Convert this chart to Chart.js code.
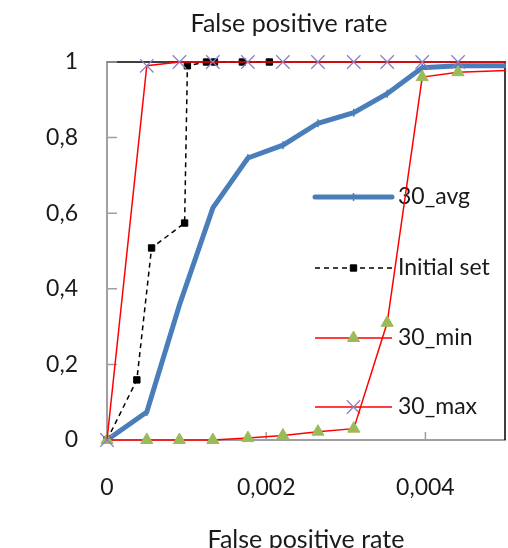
<!DOCTYPE html>
<html><head><meta charset="utf-8">
<script src="https://cdn.jsdelivr.net/npm/chart.js@4/dist/chart.umd.min.js"></script>
<style>html,body{margin:0;padding:0;background:#fff;}</style>
</head><body>
<canvas id="c" width="508" height="548"></canvas>
<script>
const chartTitle = 'False positive rate';
const xAxisTitle = 'False positive rate';
const seriesNames = ['30_avg', 'Initial set', '30_min', '30_max'];
const rocX = [0, 0.0005, 0.00091, 0.00133, 0.00177, 0.00221, 0.00265, 0.0031, 0.00352, 0.00396, 0.00441, 0.0053];
const avgY = [0, 0.074, 0.357, 0.614, 0.746, 0.78, 0.838, 0.866, 0.916, 0.985, 0.99, 0.99];
const minY = [0, 0, 0, 0, 0.005, 0.012, 0.022, 0.03, 0.31, 0.96, 0.973, 0.98];
const maxY = [0, 0.99, 1, 1, 1, 1, 1, 1, 1, 1, 1, 1];
const initX = [0, 0.000375, 0.00056, 0.000975, 0.00101, 0.00125, 0.00135, 0.0017, 0.00204];
const initY = [0, 0.159, 0.508, 0.574, 0.99, 1, 1, 1, 1];
const xTicks = [0, 0.002, 0.004];
const xTickLabels = ['0', '0,002', '0,004'];
const yTicks = [0, 0.2, 0.4, 0.6, 0.8, 1];
const yTickLabels = ['0', '0,2', '0,4', '0,6', '0,8', '1'];

const pts = (xs, ys) => xs.map((x, i) => ({x: x, y: ys[i]}));
const FONT = 'Lato, "Open Sans", sans-serif';
const TXT = '#1a1a1a';
const CLIP = {left: 12, top: 12, right: 1, bottom: 12};

const decor = {
  id: 'decor',
  beforeDatasetsDraw(chart) {
    const {ctx, chartArea: a, scales} = chart;
    ctx.save();
    ctx.strokeStyle = '#000';
    ctx.lineWidth = 1.5;
    ctx.beginPath();
    ctx.moveTo(a.left, a.top); ctx.lineTo(a.right, a.top); ctx.lineTo(a.right, a.bottom);
    ctx.stroke();
    ctx.strokeStyle = '#A0A0A0';
    ctx.lineWidth = 1.5;
    ctx.beginPath();
    yTicks.forEach(v => { if (v === 0) return; const y = scales.y.getPixelForValue(v); ctx.moveTo(a.left, y); ctx.lineTo(a.left + 10, y); });
    xTicks.forEach(v => { if (v === 0) return; const x = scales.x.getPixelForValue(v); ctx.moveTo(x, a.bottom); ctx.lineTo(x, a.bottom - 8); });
    ctx.stroke();
    ctx.fillStyle = TXT;
    ctx.font = '25px ' + FONT;
    ctx.textAlign = 'center';
    ctx.textBaseline = 'middle';
    ctx.fillText(chartTitle, (a.left + a.right) / 2 - 17, 24);
    const rows = [135, 206, 276, 345];
    const x1 = a.right - 190, x2 = a.right - 113, tx = a.right - 107;
    chart.data.datasets.forEach((ds, i) => {
      const y = a.top + rows[i];
      ctx.save();
      ctx.strokeStyle = ds.borderColor;
      ctx.lineWidth = ds.borderWidth;
      ctx.lineCap = ds.borderWidth > 3 ? 'round' : 'butt';
      ctx.setLineDash(ds.borderDash || []);
      ctx.beginPath(); ctx.moveTo(x1, y); ctx.lineTo(x2, y); ctx.stroke();
      ctx.setLineDash([]);
      ctx.lineCap = 'butt';
      ctx.strokeStyle = ds.pointBorderColor;
      ctx.fillStyle = ds.pointBackgroundColor;
      ctx.lineWidth = ds.pointBorderWidth;
      if (Chart.helpers && Chart.helpers.drawPoint) {
        Chart.helpers.drawPoint(ctx, {pointStyle: ds.pointStyle, rotation: ds.pointRotation || 0, radius: ds.pointRadius, borderWidth: ds.pointBorderWidth}, (x1 + x2) / 2, y);
      }
      ctx.restore();
      ctx.fillStyle = TXT;
      ctx.font = '23px ' + FONT;
      ctx.textAlign = 'left';
      ctx.textBaseline = 'middle';
      ctx.fillText(seriesNames[i], tx, y);
    });
    ctx.restore();
  }
};

new Chart(document.getElementById('c'), {
  type: 'line',
  data: {
    datasets: [
      {label: seriesNames[0], data: pts(rocX, avgY), borderColor: '#4A7EBB', backgroundColor: '#4A7EBB', borderWidth: 5,
       pointStyle: 'line', pointRotation: 90, pointRadius: 4, pointBorderWidth: 1.5, pointBorderColor: '#4A7EBB', pointBackgroundColor: '#4A7EBB', order: 4, clip: CLIP},
      {label: seriesNames[1], data: pts(initX, initY), borderColor: '#000000', backgroundColor: '#000000', borderWidth: 1.5, borderDash: [5, 4],
       pointStyle: 'rect', pointRadius: 4.5, pointBorderWidth: 1, pointBorderColor: '#000000', pointBackgroundColor: '#000000', order: 3, clip: CLIP},
      {label: seriesNames[2], data: pts(rocX, minY), borderColor: '#FF0000', backgroundColor: '#9BBB59', borderWidth: 1.5,
       pointStyle: 'triangle', pointRadius: 7, pointBorderWidth: 1, pointBorderColor: '#9BBB59', pointBackgroundColor: '#9BBB59', order: 2, clip: CLIP},
      {label: seriesNames[3], data: pts(rocX, maxY), borderColor: '#FF0000', backgroundColor: '#8B7CC0', borderWidth: 1.5,
       pointStyle: 'crossRot', pointRadius: 9.5, pointBorderWidth: 1.2, pointBorderColor: '#8B7CC0', pointBackgroundColor: '#8B7CC0', order: 1, clip: CLIP}
    ]
  },
  options: {
    responsive: false,
    animation: false,
    devicePixelRatio: 1,
    layout: {autoPadding: false, padding: {top: 62, right: 3, left: 0, bottom: 0}},
    elements: {line: {tension: 0, fill: false}},
    plugins: {legend: {display: false}, tooltip: {enabled: false}, title: {display: false}},
    scales: {
      x: {
        type: 'linear', min: 0, max: 0.005,
        afterBuildTicks: s => { s.ticks = xTicks.map(v => ({value: v})); },
        afterFit: s => { s.height = 108; s.paddingLeft = 0; s.paddingRight = 0; },
        ticks: {callback: (v, i) => xTickLabels[i], padding: 34, color: TXT, font: {family: FONT, size: 23}, maxRotation: 0, autoSkip: false},
        grid: {display: false, drawTicks: false},
        border: {display: true, color: '#A0A0A0', width: 2},
        title: {display: true, text: xAxisTitle, color: TXT, font: {family: FONT, size: 25}, padding: {top: 0, bottom: -7}}
      },
      y: {
        type: 'linear', min: 0, max: 1,
        afterBuildTicks: s => { s.ticks = yTicks.map(v => ({value: v})); },
        afterFit: s => { s.width = 107; s.paddingTop = 0; s.paddingBottom = 0; },
        ticks: {callback: (v, i) => yTickLabels[i], padding: 29, color: TXT, font: {family: FONT, size: 23}, autoSkip: false},
        grid: {display: false, drawTicks: false},
        border: {display: true, color: '#A0A0A0', width: 2}
      }
    }
  },
  plugins: [decor]
});
</script>
</body></html>
